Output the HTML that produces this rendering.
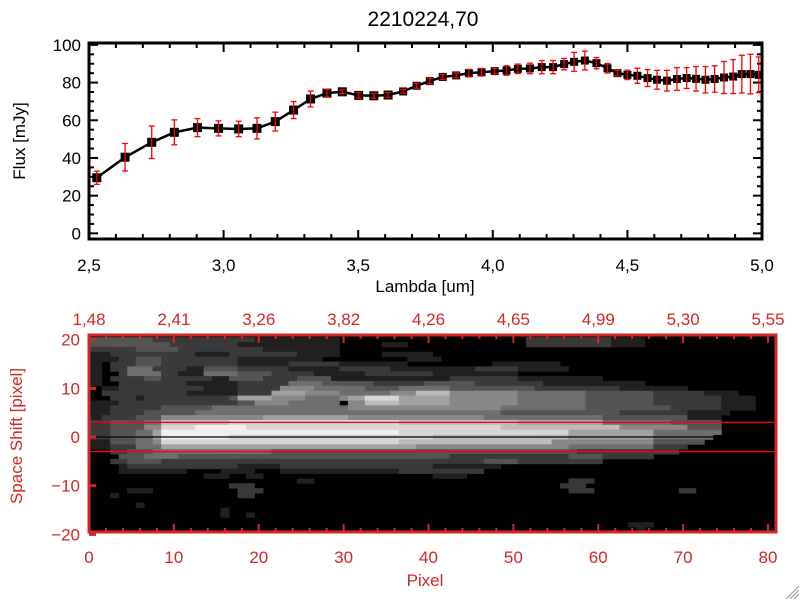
<!DOCTYPE html>
<html><head><meta charset="utf-8"><style>
html,body{margin:0;padding:0;background:#fff;}
svg{display:block;font-family:"Liberation Sans",sans-serif;}
</style></head><body>
<svg id="svg" width="800" height="600" viewBox="0 0 800 600">
<text x="423" y="26" font-size="21" text-anchor="middle">2210224,70</text>
<g id="topPanel"></g>
<g id="botPanel"></g>
<g stroke="#999" stroke-width="1">
<line x1="786" y1="599" x2="799" y2="586"/><line x1="790" y1="599" x2="799" y2="590"/><line x1="794" y1="599" x2="799" y2="594"/>
</g>
</svg>
<script>
const lambdaVals=[2.529,2.634,2.733,2.817,2.903,2.981,3.056,3.124,3.192,3.26,3.323,3.384,3.441,3.502,3.558,3.611,3.667,3.717,3.766,3.814,3.864,3.911,3.958,4.007,4.051,4.093,4.138,4.182,4.224,4.265,4.302,4.342,4.385,4.426,4.463,4.5,4.537,4.575,4.61,4.647,4.684,4.72,4.755,4.79,4.824,4.859,4.893,4.925,4.957,4.988];
const fluxVals=[29.5,40.4,48.3,53.6,56.1,55.7,55.4,55.7,59.3,65.4,71.3,74.4,75.1,73.2,73,73.4,75.3,78.3,80.8,83,83.8,85,85.5,86.1,86.4,87.3,87.5,88.2,88.2,89.8,91,91.7,90.3,87.6,85,84.1,83.6,82.4,81.5,81,81.9,82.4,82,81.5,81.9,82.7,83.2,84.5,84.5,84.1];
const fluxErr=[3.5,7.3,8.6,6.6,4.8,4,4.1,5.6,5,4.5,4.2,2.1,1,1.5,1.3,1.3,1,1.3,1.5,1.3,1.3,2,2,1.5,2.5,2.5,2.8,3.5,3.5,3,5,5,3,2.5,1.5,2.5,4,4.5,5,5.5,6,5.5,6.5,7,7,8.5,9,10,10.5,9.5];
const topXTicks=["2,5","3,0","3,5","4,0","4,5","5,0"];
const topXTickVals=[2.5,3.0,3.5,4.0,4.5,5.0];
const topYTickVals=[0,20,40,60,80,100];
const pixTicks=[0,10,20,30,40,50,60,70,80];
const wavTicks=["1,48","2,41","3,26","3,82","4,26","4,65","4,99","5,30","5,55"];
const shiftTicks=[20,10,0,-10,-20];
const imgRows=[
"3*8 2*12 1*10 0*22 2*10 1*4 0*15",
"3*10 2*8 1*12 0*5 1*3 0*14 2*10 1*4 0*15",
"2*6 3*5 2*10 1*9 0*51",
"1*3 2*10 1*4 2*8 1*5 0*5 1*6 0*40",
"1*4 2*2 3*3 2*9 1*10 0*10 1*4 0*39",
"1*2 0*1 2*3 3*3 2*9 1*6 2*6 1*8 0*10 1*8 0*25",
"1*2 0*1 2*2 4*3 2*4 1*2 3*4 2*6 1*6 2*6 1*10 2*5 1*6 0*24",
"1*2 0*2 2*1 4*4 2*2 1*3 4*4 3*4 2*5 1*6 2*8 1*10 0*30",
"1*2 0*1 2*4 3*2 2*6 1*2 3*4 2*4 3*4 1*6 1*8 2*8 1*10 0*20",
"1*2 0*2 2*8 1*6 2*6 4*4 3*6 2*6 3*6 2*8 1*12 0*15",
"0*2 1*2 2*10 1*4 2*5 5*4 4*6 3*4 4*6 3*10 2*10 1*8 0*10",
"0*2 2*10 1*6 2*4 6*4 5*4 4*6 5*3 7*4 5*8 4*8 3*8 2*6 1*4 0*4",
"0*3 2*3 1*1 2*10 3*1 6*4 5*4 4*4 5*1 6*2 8*4 6*6 5*8 4*8 3*8 2*8 1*4 0*2",
"1*4 2*14 3*2 5*4 4*6 0*1 5*2 7*4 6*6 5*8 4*8 3*8 2*8 1*4 0*2",
"1*3 2*6 3*6 4*4 4*12 5*10 5*8 4*10 3*10 2*6 1*4 0*2",
"1*3 2*4 3*6 4*14 4*14 4*8 3*14 2*8 1*5 0*5",
"1*2 2*4 3*3 5*12 6*10 5*16 4*14 3*10 1*4 0*6",
"2*3 3*4 4*2 7*8 8*20 7*14 6*10 4*8 3*6 0*6",
"2*3 3*4 5*2 8*4 9*6 8*30 7*14 5*8 3*4 0*6",
"2*3 3*3 4*2 6*1 9*8 9*20 8*20 6*10 4*8 0*6",
"2*3 3*3 4*2 6*1 9*8 8*24 7*16 6*10 4*7 0*7",
"1*3 3*3 4*2 5*1 8*8 8*20 7*18 5*12 3*6 0*8",
"1*3 2*3 4*2 4*1 6*10 6*20 5*18 4*10 2*4 0*10",
"0*3 2*2 3*3 4*4 4*10 3*20 3*16 2*12 0*11",
"0*4 3*3 4*4 3*12 3*20 2*14 3*4 2*6 0*14",
"0*3 2*2 3*4 2*16 2*22 3*4 2*10 0*20",
"0*4 1*1 2*3 2*10 1*5 2*18 1*8 0*32",
"0*4 1*8 0*4 1*4 0*3 1*14 2*10 0*34",
"0*14 1*3 0*2 1*2 0*20 1*4 0*36",
"0*25 1*2 0*30 2*3 0*21",
"0*17 2*3 0*36 2*3 0*22",
"0*5 1*3 0*10 2*3 0*36 2*3 0*10 2*2 0*9",
"0*3 1*1 0*14 2*2 0*61",
"0*81",
"0*6 1*1 0*74",
"0*16 1*1 0*64",
"0*16 1*1 0*2 1*1 0*61",
"0*81",
"0*64 1*3 0*14",
"0*65 1*1 0*15",
"0*81"];

const NS="http://www.w3.org/2000/svg";
function mk(parent,tag,attrs){const e=document.createElementNS(NS,tag);for(const k in attrs)e.setAttribute(k,attrs[k]);parent.appendChild(e);return e;}
const topG=document.getElementById('topPanel');
const botG=document.getElementById('botPanel');

// ---- top panel ----
const TX0=89,TX1=762,TY0=43,TY1=239;
const xs=l=>TX0+(l-2.5)/2.5*(TX1-TX0);
const ymin=-3,ymax=101;
const ys=v=>TY1-(v-ymin)/(ymax-ymin)*(TY1-TY0);
let frame=mk(topG,'rect',{x:TX0,y:TY0,width:TX1-TX0,height:TY1-TY0,fill:'none',stroke:'#000','stroke-width':3});


for(let i=0;i<=25;i++){const l=2.5+i*0.1;const x=xs(l);const len=(i%5===0)?9:5;
 mk(topG,'line',{x1:x,y1:TY1,x2:x,y2:TY1-len,stroke:'#000','stroke-width':2});
 mk(topG,'line',{x1:x,y1:TY0,x2:x,y2:TY0+len,stroke:'#000','stroke-width':2});}
for(let v=0;v<=100;v+=5){const y=ys(v);const len=(v%20===0)?9:5;
 mk(topG,'line',{x1:TX0,y1:y,x2:TX0+len,y2:y,stroke:'#000','stroke-width':2});
 mk(topG,'line',{x1:TX1,y1:y,x2:TX1-len,y2:y,stroke:'#000','stroke-width':2});}
topXTickVals.forEach((v,i)=>{const t=mk(topG,'text',{x:xs(v),y:271,'font-size':17,'text-anchor':'middle'});t.textContent=topXTicks[i];
 
 });
topYTickVals.forEach(v=>{const t=mk(topG,'text',{x:81,y:ys(v)+6,'font-size':17,'text-anchor':'end'});t.textContent=String(v);
 
 });
let xl=mk(topG,'text',{x:425,y:292,'font-size':17,'text-anchor':'middle'});xl.textContent='Lambda [um]';


let yl=mk(topG,'text',{x:0,y:0,'font-size':17,'text-anchor':'middle',transform:'translate(25,141) rotate(-90)'});yl.textContent='Flux [mJy]';


let pts=lambdaVals.map((l,i)=>xs(l)+','+ys(fluxVals[i])).join(' ');
let line=mk(topG,'polyline',{points:pts,fill:'none',stroke:'#000','stroke-width':2.5});


lambdaVals.forEach((l,i)=>{const x=xs(l),y=ys(fluxVals[i]);const s=i<16?9:8;
 const m=mk(topG,'rect',{x:x-s/2,y:y-s/2,width:s,height:s,fill:'#000'});
 
 });
lambdaVals.forEach((l,i)=>{const x=xs(l),y1=ys(fluxVals[i]+fluxErr[i]),y2=ys(fluxVals[i]-fluxErr[i]);
 const g=mk(topG,'g',{stroke:'#f00','stroke-width':1.3});
 
 
 mk(g,'line',{x1:x,y1:y1,x2:x,y2:y2});mk(g,'line',{x1:x-3,y1:y1,x2:x+3,y2:y1});mk(g,'line',{x1:x-3,y1:y2,x2:x+3,y2:y2});});

// ---- bottom panel ----
const BX0=89,BX1=776,BY0=335,BY1=532;
const px=p=>89+p*(768-89)/80;
const sy=s=>437-s*4.87;
const RED='#d02828';
const clip=mk(botG,'clipPath',{id:'bclip'});mk(clip,'rect',{x:BX0,y:BY0,width:BX1-BX0,height:BY1-BY0});
const img=mk(botG,'g',{'clip-path':'url(#bclip)'});


mk(img,'rect',{x:BX0,y:BY0,width:BX1-BX0,height:BY1-BY0,fill:'#000'});
imgRows.forEach((row,r)=>{const s=20-r;let c=0;
 row.split(' ').forEach(tok=>{const [v,n]=tok.split('*').map(Number);
  for(let k=0;k<n;k++,c++){if(v===0||c>80)continue;const g=Math.min(255,v*26+6);
   const cell=mk(img,'rect',{x:px(c-0.5),y:sy(s+0.5),width:px(1)-px(0)+0.4,height:4.87+0.4,fill:`rgb(${g},${g},${g})`});
   
   }});});
[3,-3].forEach(s=>{const l=mk(botG,'line',{x1:BX0,y1:sy(s),x2:BX1,y2:sy(s),stroke:'#f00','stroke-width':1.2});
 
 });
let cl=mk(botG,'line',{x1:BX0,y1:sy(0),x2:BX1,y2:sy(0),stroke:'#000','stroke-width':1.2});


let bf=mk(botG,'rect',{x:BX0,y:BY0,width:BX1-BX0,height:BY1-BY0,fill:'none',stroke:RED,'stroke-width':3});


for(let p=0;p<=80;p+=2){const x=px(p);const len=(p%10===0)?8:4;
 mk(botG,'line',{x1:x,y1:BY1,x2:x,y2:BY1-len,stroke:RED,'stroke-width':2});
 mk(botG,'line',{x1:x,y1:BY0,x2:x,y2:BY0+len,stroke:RED,'stroke-width':2});}
shiftTicks.forEach(s=>{const y=sy(s);mk(botG,'line',{x1:BX0,y1:y,x2:BX0+7,y2:y,stroke:RED,'stroke-width':3});
 const t=mk(botG,'text',{x:80,y:y+6,'font-size':17,'text-anchor':'end',fill:RED});t.textContent=(s<0?'\u2212':'')+Math.abs(s);
 
 });
pixTicks.forEach(p=>{const t=mk(botG,'text',{x:px(p),y:563,'font-size':17,'text-anchor':'middle',fill:RED});t.textContent=String(p);
 
 });
pixTicks.forEach((p,i)=>{const t=mk(botG,'text',{x:px(p),y:325,'font-size':17,'text-anchor':'middle',fill:RED});t.textContent=wavTicks[i];
 
 });
let bxl=mk(botG,'text',{x:425,y:586,'font-size':17,'text-anchor':'middle',fill:RED});bxl.textContent='Pixel';


let byl=mk(botG,'text',{x:0,y:0,'font-size':17,'text-anchor':'middle',fill:RED,transform:'translate(22,436) rotate(-90)'});byl.textContent='Space Shift [pixel]';


</script>
</body></html>
